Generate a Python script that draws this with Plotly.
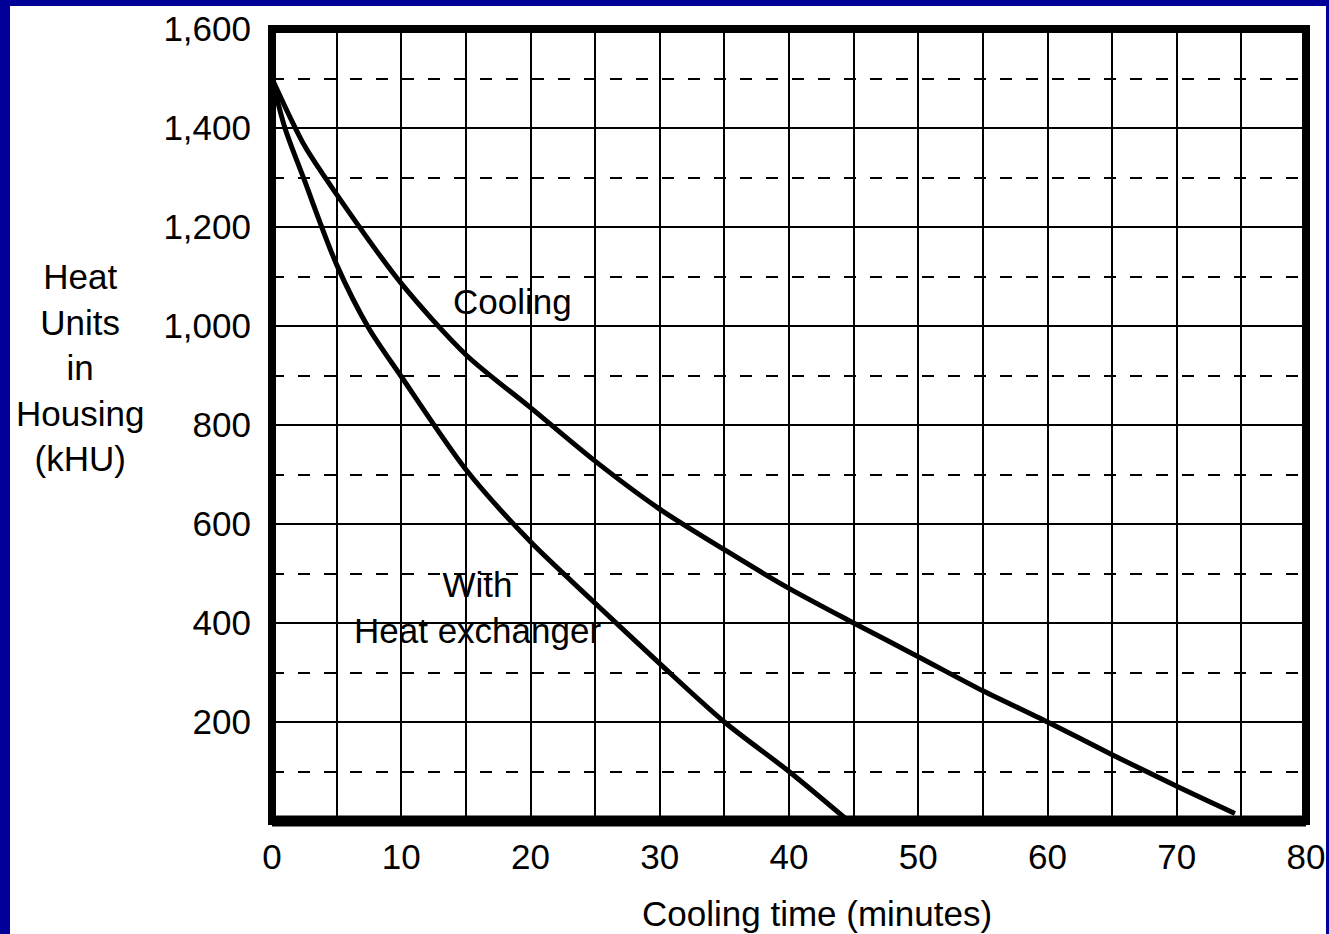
import plotly.graph_objects as go

# ---- data ----
cool_t = [0, 2.5, 5, 10, 15, 20, 25, 30, 35, 40, 45, 50, 55, 60, 65, 70, 74.5]
cool_v = [1500, 1365, 1266, 1086, 942, 835, 727, 630, 548, 470, 400, 332, 263, 200, 134, 70, 15]

he_t = [0, 1, 2.5, 5, 7.5, 10, 15, 20, 25, 30, 35, 40, 44.6]
he_v = [1500, 1400, 1295, 1124, 995, 898, 710, 564, 440, 318, 200, 100, 0]

x_ticks = [0, 10, 20, 30, 40, 50, 60, 70, 80]
y_ticks = [200, 400, 600, 800, 1000, 1200, 1400, 1600]
y_labels = ["200", "400", "600", "800", "1,000", "1,200", "1,400", "1,600"]

# ---- layout geometry ----
W, H = 1329, 934
L, R, T, B = 272, 23, 29, 113
PW, PH = W - L - R, H - T - B
FONT = "Liberation Sans, Arial, sans-serif"
BLUE = "#000099"


def px_x(px):
    return (px - L) / PW


def px_y(py):
    return (H - B - py) / PH


fig = go.Figure()
line_style = dict(color="black", width=5, shape="spline", smoothing=0.8)
fig.add_trace(go.Scatter(x=cool_t, y=cool_v, mode="lines", line=line_style,
                         name="Cooling", hoverinfo="skip"))
fig.add_trace(go.Scatter(x=he_t, y=he_v, mode="lines", line=line_style,
                         name="With Heat exchanger", hoverinfo="skip"))

fig.update_layout(
    width=W, height=H, autosize=False,
    margin=dict(l=L, r=R, t=T, b=B, pad=0, autoexpand=False),
    paper_bgcolor=BLUE, plot_bgcolor="white",
    showlegend=False,
    font=dict(family=FONT, size=35, color="black"),
    xaxis=dict(
        range=[0, 80], tickvals=x_ticks, ticktext=[str(v) for v in x_ticks],
        showgrid=True, gridcolor="black", gridwidth=2,
        minor=dict(dtick=5, tick0=0, showgrid=True, gridcolor="black", gridwidth=2),
        zeroline=False, showline=False, ticks="", automargin=False,
        ticklabelstandoff=12,
        tickfont=dict(family=FONT, size=35, color="black"),
    ),
    yaxis=dict(
        range=[0, 1600], tickvals=y_ticks, ticktext=y_labels,
        showgrid=True, gridcolor="black", gridwidth=2,
        minor=dict(dtick=100, tick0=0, showgrid=True, gridcolor="black",
                   gridwidth=2, griddash="12px,14px"),
        zeroline=False, showline=False, ticks="", automargin=False,
        ticklabelstandoff=20,
        tickfont=dict(family=FONT, size=35, color="black"),
    ),
    shapes=[
        # white slide area inside the blue border
        dict(type="rect", xref="paper", yref="paper", x0=px_x(10), x1=px_x(1326),
             y0=px_y(H + 20), y1=px_y(6), fillcolor="white", line=dict(width=0),
             layer="below"),
        # plot frame
        dict(type="rect", xref="paper", yref="paper", x0=0, x1=1, y0=0, y1=1,
             line=dict(color="black", width=8), layer="above"),
        dict(type="line", xref="paper", yref="paper", x0=0, x1=1, y0=0, y1=0,
             line=dict(color="black", width=11), layer="above"),
    ],
    annotations=[
        dict(text="Heat<br>Units<br>in<br>Housing<br>(kHU)", xref="paper", yref="paper",
             x=px_x(80), y=px_y(367), xanchor="center", yanchor="middle",
             align="center", showarrow=False, font=dict(family=FONT, size=35)),
        dict(text="Cooling time (minutes)", xref="paper", yref="paper",
             x=px_x(817), y=px_y(913), xanchor="center", yanchor="middle",
             showarrow=False, font=dict(family=FONT, size=35)),
        dict(text="Cooling", xref="x", yref="y", x=18.6, y=1050,
             xanchor="center", yanchor="middle", showarrow=False,
             font=dict(family=FONT, size=35)),
        dict(text="With<br>Heat exchanger", xref="x", yref="y", x=15.9, y=432,
             xanchor="center", yanchor="middle", align="center", showarrow=False,
             font=dict(family=FONT, size=35)),
    ],
)

fig.write_html(
    "out.html",
    config={"displayModeBar": False, "responsive": False},
    post_script="document.body.style.margin='0';document.body.style.padding='0';"
                "document.documentElement.style.overflow='hidden';",
)
